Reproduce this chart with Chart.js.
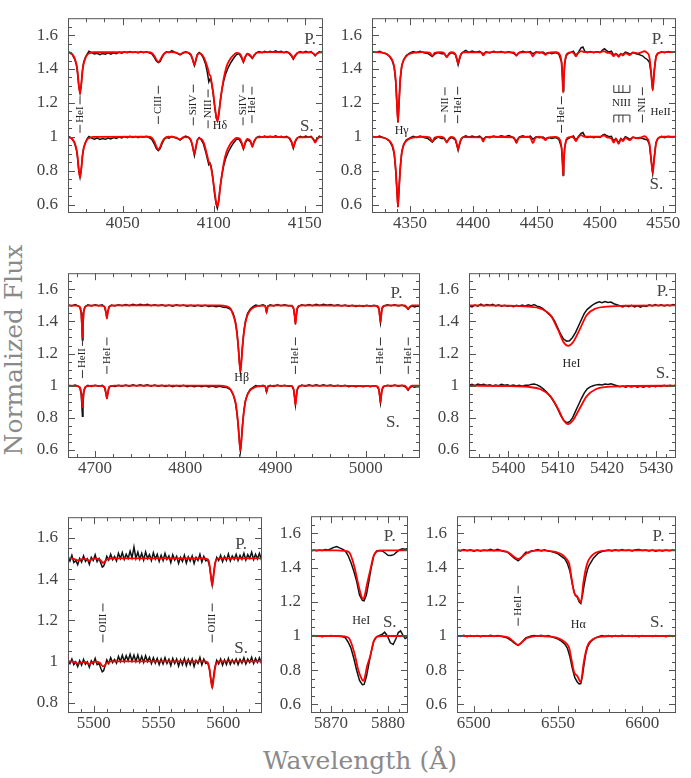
<!DOCTYPE html>
<html>
<head>
<meta charset="utf-8">
<script src="https://cdn.jsdelivr.net/npm/chart.js@4.4.1/dist/chart.umd.min.js"></script>
<style>
  body { margin: 0; background: #fff; width: 691px; height: 778px; position: relative; overflow: hidden; }
  canvas { position: absolute; }
  .ttl { position: absolute; font-family: "DejaVu Serif"; font-size: 25px; line-height: 29px; color: #8a8a8a; white-space: nowrap; }
  #ylab { left: 13px; top: 350px; transform: translate(-50%, -50%) rotate(-90deg); }
  #xlab { left: 360px; top: 760px; transform: translate(-50%, -50%); }
</style>
</head>
<body>
<div class="ttl" id="ylab">Normalized Flux</div>
<div class="ttl" id="xlab">Wavelength (Å)</div>
<script>
// tick labels
const yTicks = [0.6, 0.8, 1, 1.2, 1.4, 1.6];
const yTicksE = [0.8, 1, 1.2, 1.4, 1.6];
const xTicksA = [4050, 4100, 4150];
const xTicksB = [4350, 4400, 4450, 4500, 4550];
const xTicksC = [4700, 4800, 4900, 5000];
const xTicksD = [5400, 5410, 5420, 5430];
const xTicksE = [5500, 5550, 5600];
const xTicksF = [5870, 5880];
const xTicksG = [6500, 6550, 6600];

// spectra: [wavelength, flux, wavelength, flux, ...]  (P = primary, S = secondary)
// model = red, obs = black

// 4020-4160
const aModP = [4020,1.498, 4021.5,1.493, 4022.6,1.484, 4023.6,1.465, 4024.6,1.43, 4025.2,1.39, 4025.9,1.31, 4026.6,1.255, 4027.3,1.31, 4028,1.39, 4028.6,1.43, 4029.6,1.465, 4030.6,1.484, 4032,1.494, 4034,1.499, 4064,1.5, 4066,1.495, 4067.5,1.476, 4068.7,1.452, 4069.6,1.442, 4070.5,1.452, 4071.7,1.476, 4073,1.493, 4075,1.5, 4079,1.498, 4081.5,1.487, 4083.5,1.498, 4086,1.497, 4087.5,1.484, 4088.5,1.455, 4089.4,1.423, 4090.2,1.455, 4091,1.482, 4092,1.492, 4093,1.49, 4094.5,1.47, 4096.2,1.423, 4097.2,1.385, 4097.6,1.367, 4098.2,1.36, 4099,1.31, 4099.7,1.263, 4100.6,1.18, 4101.4,1.12, 4102,1.094, 4102.8,1.13, 4103.5,1.2, 4104.3,1.263, 4105.6,1.35, 4107,1.414, 4108.8,1.455, 4110.7,1.48, 4112.5,1.495, 4114.3,1.49, 4115.4,1.47, 4116.3,1.442, 4117.2,1.47, 4118.5,1.49, 4120.2,1.48, 4121.2,1.465, 4122.2,1.482, 4124,1.497, 4130,1.5, 4141,1.498, 4142.8,1.48, 4143.7,1.462, 4144.6,1.48, 4146.5,1.497, 4153.5,1.498, 4154.8,1.49, 4155.7,1.482, 4156.6,1.49, 4158,1.498, 4160,1.5];
const aModS = [4020,0.998, 4021.5,0.993, 4022.6,0.984, 4023.6,0.965, 4024.6,0.93, 4025.2,0.89, 4025.9,0.81, 4026.6,0.759, 4027.3,0.81, 4028,0.89, 4028.6,0.93, 4029.6,0.965, 4030.6,0.984, 4032,0.994, 4034,0.999, 4064,1.0, 4066,0.994, 4067.5,0.97, 4068.7,0.938, 4069.6,0.925, 4070.5,0.938, 4071.7,0.97, 4073,0.991, 4075,1.0, 4079,0.997, 4081.5,0.985, 4083.5,0.998, 4086,0.996, 4087.5,0.98, 4088.5,0.94, 4089.4,0.896, 4090.2,0.94, 4091,0.978, 4092,0.99, 4093,0.988, 4094.5,0.965, 4096.2,0.9, 4097.2,0.855, 4097.6,0.845, 4098.2,0.835, 4099,0.79, 4099.7,0.74, 4100.6,0.67, 4101.4,0.61, 4102,0.59, 4102.8,0.625, 4103.5,0.695, 4104.3,0.76, 4105.6,0.85, 4107,0.91, 4108.8,0.952, 4110.7,0.978, 4112.5,0.993, 4114.3,0.988, 4115.4,0.965, 4116.3,0.93, 4117.2,0.965, 4118.5,0.988, 4120.2,0.975, 4121.2,0.94, 4122.2,0.975, 4124,0.996, 4130,1.0, 4141,0.997, 4142.8,0.97, 4143.7,0.936, 4144.6,0.97, 4146.5,0.996, 4153.5,0.998, 4154.8,0.982, 4155.7,0.965, 4156.6,0.982, 4158,0.998, 4160,1.0];
const aObsP = [4020,1.503, 4021.5,1.495, 4022.5,1.482, 4023.6,1.46, 4024.6,1.425, 4025.2,1.38, 4025.9,1.3, 4026.6,1.26, 4027.3,1.31, 4028,1.4, 4028.6,1.44, 4029.6,1.47, 4030.6,1.49, 4031.5,1.505, 4033,1.497, 4034.5,1.489, 4036,1.493, 4037.5,1.485, 4039,1.492, 4040.5,1.487, 4042,1.495, 4043.5,1.488, 4045,1.496, 4046.5,1.49, 4048,1.499, 4049.5,1.494, 4051,1.502, 4052.5,1.496, 4054,1.503, 4055.5,1.497, 4057,1.501, 4058.5,1.495, 4060,1.503, 4061.5,1.497, 4063,1.502, 4064.5,1.496, 4066,1.49, 4067.3,1.47, 4068.5,1.448, 4069.6,1.438, 4070.6,1.445, 4071.7,1.47, 4072.8,1.49, 4074,1.502, 4075.5,1.497, 4077,1.508, 4078.5,1.499, 4080,1.492, 4081.5,1.484, 4083,1.493, 4084.5,1.502, 4086,1.497, 4087.5,1.482, 4088.6,1.45, 4089.4,1.42, 4090.2,1.45, 4091,1.486, 4092,1.497, 4093,1.49, 4094.3,1.465, 4095.5,1.43, 4096.5,1.38, 4097.3,1.325, 4097.9,1.34, 4098.6,1.33, 4099.5,1.27, 4100.5,1.18, 4101.4,1.11, 4102,1.094, 4102.7,1.13, 4103.5,1.2, 4104.5,1.28, 4105.5,1.33, 4106.5,1.37, 4108,1.41, 4109.5,1.44, 4111,1.465, 4112.5,1.485, 4114,1.49, 4115.3,1.465, 4116.3,1.44, 4117.3,1.47, 4118.5,1.49, 4120.2,1.475, 4121.2,1.462, 4122.2,1.48, 4123.5,1.497, 4125,1.503, 4126.5,1.497, 4128,1.505, 4129.5,1.498, 4131,1.505, 4132.5,1.499, 4134,1.507, 4135.5,1.5, 4137,1.505, 4138.5,1.497, 4140,1.503, 4141.5,1.492, 4142.8,1.475, 4143.7,1.458, 4144.7,1.477, 4146,1.495, 4147.5,1.503, 4149,1.497, 4150.5,1.505, 4152,1.498, 4153.5,1.503, 4154.8,1.49, 4155.7,1.478, 4156.6,1.49, 4158,1.503, 4159,1.497, 4160,1.505];
const aObsS = [4020,1.003, 4021.5,0.995, 4022.5,0.983, 4023.6,0.962, 4024.6,0.925, 4025.2,0.88, 4025.9,0.8, 4026.6,0.762, 4027.3,0.81, 4028,0.895, 4028.6,0.935, 4029.6,0.968, 4030.6,0.99, 4031.5,1.002, 4033,0.992, 4034.5,0.986, 4036,0.993, 4037.5,0.984, 4039,0.99, 4040.5,0.985, 4042,0.993, 4043.5,0.987, 4045,0.995, 4046.5,0.99, 4048,0.998, 4049.5,0.993, 4051,1.001, 4052.5,0.995, 4054,1.003, 4055.5,0.996, 4057,1.002, 4058.5,0.995, 4060,1.002, 4061.5,0.997, 4063,1.003, 4064.5,0.995, 4066,0.985, 4067.3,0.96, 4068.5,0.93, 4069.6,0.918, 4070.6,0.93, 4071.7,0.96, 4072.8,0.985, 4074,0.996, 4075.5,0.992, 4077,1.003, 4078.5,0.996, 4080,0.99, 4081.5,0.98, 4083,0.992, 4084.5,1.004, 4086,0.998, 4087.5,0.978, 4088.6,0.935, 4089.4,0.89, 4090.2,0.935, 4091,0.98, 4092,0.995, 4093,0.985, 4094.3,0.96, 4095.5,0.915, 4096.5,0.87, 4097.3,0.835, 4097.9,0.845, 4098.6,0.825, 4099.5,0.76, 4100.5,0.66, 4101.4,0.6, 4102,0.578, 4102.7,0.62, 4103.5,0.7, 4104.5,0.775, 4105.5,0.83, 4106.5,0.87, 4108,0.91, 4109.5,0.94, 4111,0.965, 4112.5,0.985, 4114,0.985, 4115.3,0.96, 4116.3,0.928, 4117.3,0.962, 4118.5,0.985, 4120.2,0.97, 4121.2,0.945, 4122.2,0.972, 4123.5,0.995, 4125,1.003, 4126.5,0.997, 4128,1.004, 4129.5,0.996, 4131,1.003, 4132.5,0.997, 4134,1.005, 4135.5,0.998, 4137,1.003, 4138.5,0.996, 4140,1.002, 4141.5,0.99, 4142.8,0.965, 4143.7,0.932, 4144.7,0.968, 4146,0.993, 4147.5,1.002, 4149,0.996, 4150.5,1.004, 4152,0.997, 4153.5,1.002, 4154.8,0.985, 4155.7,0.97, 4156.6,0.988, 4158,1.003, 4159,0.996, 4160,1.004];

// 4320-4560
const bModP = [4320,1.5, 4328,1.497, 4331,1.49, 4334,1.475, 4336,1.452, 4337.5,1.415, 4338.7,1.335, 4339.6,1.21, 4340.5,1.085, 4341.4,1.21, 4342.3,1.335, 4343.5,1.415, 4345,1.452, 4347,1.475, 4350,1.49, 4354,1.497, 4360,1.5, 4365.5,1.497, 4367.6,1.478, 4369.5,1.495, 4374,1.5, 4377,1.493, 4379,1.47, 4381,1.493, 4383,1.499, 4385.8,1.487, 4387.2,1.455, 4388,1.43, 4388.8,1.455, 4390.2,1.487, 4392,1.498, 4406,1.498, 4407.8,1.48, 4409.5,1.497, 4415,1.5, 4432,1.498, 4434,1.478, 4436,1.497, 4443,1.5, 4445.3,1.494, 4447,1.475, 4448.8,1.494, 4452,1.5, 4455.5,1.492, 4457,1.484, 4458.5,1.494, 4465,1.499, 4468.5,1.482, 4469.7,1.43, 4470.4,1.34, 4470.9,1.26, 4471.4,1.34, 4472.1,1.43, 4473.3,1.482, 4475.5,1.497, 4478,1.5, 4479.5,1.49, 4481,1.475, 4482.5,1.492, 4485,1.506, 4488,1.5, 4500,1.5, 4503,1.506, 4505.5,1.497, 4509,1.49, 4510.8,1.476, 4512.5,1.49, 4514.8,1.472, 4516.5,1.49, 4518.1,1.48, 4520,1.494, 4523.6,1.482, 4526,1.498, 4530,1.492, 4533,1.5, 4535,1.505, 4537,1.497, 4539,1.47, 4540.4,1.38, 4541.6,1.273, 4542.8,1.38, 4544.2,1.47, 4546.2,1.495, 4550,1.5, 4560,1.5];
const bModS = [4320,1.0, 4328,0.997, 4331,0.99, 4334,0.975, 4336,0.95, 4337.5,0.905, 4338.7,0.81, 4339.6,0.7, 4340.5,0.585, 4341.4,0.7, 4342.3,0.81, 4343.5,0.905, 4345,0.95, 4347,0.975, 4350,0.99, 4354,0.997, 4360,1.0, 4365.5,0.996, 4367.6,0.972, 4369.5,0.995, 4374,1.0, 4377,0.992, 4379,0.966, 4381,0.992, 4383,0.999, 4385.8,0.985, 4387.2,0.95, 4388,0.925, 4388.8,0.95, 4390.2,0.985, 4392,0.998, 4406,0.997, 4407.8,0.972, 4409.5,0.997, 4415,1.0, 4432,0.997, 4434,0.962, 4436,0.996, 4443,1.0, 4445.3,0.992, 4447,0.962, 4448.8,0.992, 4452,1.0, 4455.5,0.99, 4457,0.98, 4458.5,0.993, 4465,0.999, 4468.5,0.98, 4469.7,0.93, 4470.4,0.85, 4470.9,0.77, 4471.4,0.85, 4472.1,0.93, 4473.3,0.98, 4475.5,0.997, 4478,1.0, 4479.5,0.99, 4481,0.975, 4482.5,0.993, 4485,1.01, 4488,1.0, 4500,1.0, 4503,1.008, 4505.5,0.997, 4509,0.99, 4510.8,0.965, 4512.5,0.988, 4514.8,0.958, 4516.5,0.988, 4518.1,0.975, 4520,0.993, 4523.6,0.98, 4526,0.998, 4530,0.99, 4533,0.998, 4535,1.003, 4537,0.993, 4539,0.96, 4540.4,0.87, 4541.6,0.783, 4542.8,0.87, 4544.2,0.96, 4546.2,0.993, 4550,1.0, 4560,1.0];
const bObsP = [4320,1.503, 4323,1.497, 4326,1.505, 4329,1.494, 4331.5,1.49, 4334,1.472, 4336,1.448, 4337.5,1.41, 4338.7,1.33, 4339.6,1.2, 4340.5,1.085, 4341.4,1.21, 4342.3,1.34, 4343.5,1.42, 4345,1.455, 4347,1.48, 4350,1.495, 4352.5,1.503, 4355,1.497, 4358,1.504, 4361,1.496, 4364,1.492, 4366,1.482, 4367.6,1.474, 4369.5,1.488, 4372,1.497, 4375,1.49, 4377,1.49, 4379,1.472, 4381,1.488, 4383,1.497, 4385.8,1.485, 4387.2,1.45, 4388,1.425, 4388.8,1.45, 4390.2,1.485, 4392,1.5, 4394,1.51, 4396.5,1.498, 4399,1.506, 4402,1.499, 4405,1.505, 4407.8,1.49, 4410,1.502, 4413,1.495, 4416,1.504, 4419,1.497, 4422,1.503, 4425,1.496, 4428,1.502, 4431,1.495, 4434,1.482, 4436.5,1.498, 4439,1.504, 4442,1.497, 4445,1.503, 4447,1.49, 4449.5,1.502, 4452,1.495, 4455,1.5, 4457,1.49, 4459.5,1.497, 4462,1.491, 4465,1.497, 4467.5,1.488, 4469.7,1.44, 4470.4,1.35, 4470.9,1.27, 4471.4,1.34, 4472.1,1.43, 4473.3,1.478, 4475,1.492, 4477,1.498, 4479,1.505, 4481,1.48, 4483,1.5, 4485,1.525, 4486.5,1.53, 4488,1.505, 4490,1.497, 4492.5,1.503, 4495,1.496, 4497.5,1.502, 4500,1.497, 4502,1.512, 4503.5,1.52, 4505,1.51, 4507,1.5, 4509,1.505, 4510.8,1.482, 4512.5,1.49, 4514.8,1.478, 4516.5,1.49, 4518.1,1.485, 4520,1.5, 4522,1.495, 4523.6,1.488, 4526,1.497, 4528.5,1.49, 4531,1.485, 4533.5,1.478, 4535.5,1.465, 4537.5,1.455, 4539,1.44, 4540.4,1.37, 4541.6,1.28, 4542.8,1.39, 4544.2,1.475, 4546,1.493, 4548.5,1.502, 4551,1.496, 4554,1.503, 4557,1.497, 4560,1.502];
const bObsS = [4320,1.003, 4323,0.996, 4326,1.004, 4329,0.995, 4331.5,0.988, 4334,0.972, 4336,0.945, 4337.5,0.9, 4338.7,0.805, 4339.6,0.69, 4340.5,0.585, 4341.4,0.7, 4342.3,0.815, 4343.5,0.91, 4345,0.955, 4347,0.98, 4350,0.993, 4352.5,1.003, 4355,0.996, 4358,1.004, 4361,0.995, 4364,0.99, 4366,0.978, 4367.6,0.968, 4369.5,0.985, 4372,0.998, 4375,0.99, 4377,0.99, 4379,0.97, 4381,0.988, 4383,0.997, 4385.8,0.982, 4387.2,0.945, 4388,0.92, 4388.8,0.945, 4390.2,0.982, 4392,0.998, 4394,1.005, 4396.5,0.997, 4399,1.004, 4402,0.998, 4405,1.004, 4407.8,0.985, 4410,1.0, 4413,0.995, 4416,1.004, 4419,0.998, 4422,1.006, 4425,1.0, 4428,1.007, 4431,0.998, 4434,0.975, 4436.5,1.0, 4439,1.006, 4442,0.998, 4445,1.004, 4447,0.985, 4449.5,1.0, 4452,0.995, 4455,0.999, 4457,0.988, 4459.5,0.996, 4462,0.99, 4465,0.996, 4467.5,0.985, 4469.7,0.935, 4470.4,0.85, 4470.9,0.775, 4471.4,0.85, 4472.1,0.935, 4473.3,0.98, 4475,0.99, 4477,0.998, 4479,1.005, 4481,0.98, 4483,1.002, 4485,1.02, 4486.5,1.025, 4488,1.004, 4490,0.996, 4492.5,1.002, 4495,0.995, 4497.5,1.0, 4500,0.996, 4502,1.01, 4503.5,1.015, 4505,1.008, 4507,1.0, 4509,1.003, 4510.8,0.975, 4512.5,0.99, 4514.8,0.965, 4516.5,0.99, 4518.1,0.98, 4520,1.0, 4522,0.994, 4523.6,0.985, 4526,0.997, 4528.5,0.992, 4531,0.995, 4533.5,0.99, 4535.5,0.985, 4537.5,0.98, 4539,0.955, 4540.4,0.86, 4541.6,0.785, 4542.8,0.875, 4544.2,0.965, 4546,0.993, 4548.5,1.002, 4551,0.995, 4554,1.003, 4557,0.996, 4560,1.002];

// 4670-5060
const cModP = [4670,1.5, 4680,1.498, 4683,1.49, 4684.6,1.46, 4685.4,1.38, 4686,1.286, 4686.6,1.38, 4687.4,1.46, 4689,1.49, 4692,1.498, 4700,1.5, 4709,1.497, 4711,1.486, 4712.3,1.45, 4713.1,1.418, 4713.9,1.45, 4715.2,1.486, 4717,1.497, 4722,1.5, 4838,1.5, 4845,1.495, 4850,1.48, 4853,1.44, 4855.5,1.39, 4857.3,1.32, 4858.8,1.23, 4860,1.14, 4861,1.088, 4862,1.14, 4863.2,1.23, 4864.7,1.32, 4866.5,1.39, 4869,1.44, 4872,1.47, 4877,1.49, 4884,1.498, 4888.5,1.497, 4890,1.454, 4891.5,1.497, 4900,1.5, 4918,1.497, 4920,1.48, 4921.2,1.43, 4922,1.384, 4922.8,1.43, 4924,1.48, 4926,1.497, 4930,1.5, 5012,1.497, 5014.5,1.48, 5015.5,1.43, 5016.2,1.394, 5016.9,1.43, 5017.9,1.48, 5020,1.497, 5025,1.5, 5043,1.5, 5045,1.49, 5046.8,1.477, 5048.6,1.49, 5051,1.5, 5060,1.5];
const cModS = [4670,1.0, 4680,0.998, 4683,0.99, 4684.6,0.96, 4685.4,0.91, 4686,0.865, 4686.6,0.91, 4687.4,0.96, 4689,0.99, 4692,0.998, 4700,1.0, 4709,0.997, 4711,0.985, 4712.3,0.945, 4713.1,0.92, 4713.9,0.945, 4715.2,0.985, 4717,0.997, 4722,1.0, 4838,1.0, 4845,0.995, 4850,0.978, 4853,0.945, 4855.5,0.9, 4857.3,0.83, 4858.8,0.74, 4860,0.65, 4861,0.594, 4862,0.65, 4863.2,0.74, 4864.7,0.83, 4866.5,0.9, 4869,0.945, 4872,0.972, 4877,0.99, 4884,0.998, 4888.5,0.997, 4890,0.96, 4891.5,0.997, 4900,1.0, 4918,0.997, 4920,0.975, 4921.2,0.92, 4922,0.88, 4922.8,0.92, 4924,0.975, 4926,0.997, 4930,1.0, 5012,0.997, 5014.5,0.975, 5015.5,0.93, 5016.2,0.894, 5016.9,0.93, 5017.9,0.975, 5020,0.997, 5025,1.0, 5043,1.0, 5045,0.99, 5046.8,0.975, 5048.6,0.99, 5051,1.0, 5060,1.0];
const cObsP = [4670,1.503, 4674,1.496, 4678,1.505, 4681,1.497, 4683,1.49, 4684.6,1.455, 4685.4,1.37, 4686,1.285, 4686.6,1.37, 4687.4,1.46, 4689,1.492, 4692,1.503, 4696,1.496, 4700,1.504, 4704,1.497, 4708,1.503, 4710.5,1.49, 4712.3,1.448, 4713.1,1.42, 4713.9,1.45, 4715.5,1.49, 4718,1.502, 4722,1.496, 4726,1.504, 4730,1.497, 4734,1.505, 4738,1.498, 4742,1.506, 4746,1.499, 4750,1.507, 4754,1.5, 4758,1.506, 4762,1.498, 4766,1.504, 4770,1.497, 4774,1.503, 4778,1.496, 4782,1.502, 4786,1.495, 4790,1.503, 4794,1.497, 4798,1.502, 4802,1.495, 4806,1.5, 4810,1.494, 4814,1.501, 4818,1.494, 4822,1.5, 4826,1.493, 4830,1.498, 4834,1.491, 4838,1.496, 4842,1.488, 4846,1.486, 4850,1.476, 4853,1.45, 4855.5,1.4, 4857.3,1.33, 4858.8,1.235, 4860,1.14, 4861,1.088, 4862,1.145, 4863.2,1.24, 4864.7,1.33, 4866.5,1.4, 4869,1.45, 4872,1.478, 4875,1.492, 4878,1.502, 4882,1.496, 4886,1.504, 4888.5,1.497, 4890,1.46, 4891.5,1.495, 4894,1.503, 4898,1.496, 4902,1.505, 4906,1.498, 4910,1.504, 4914,1.497, 4918,1.499, 4920,1.478, 4921.2,1.43, 4922,1.385, 4922.8,1.43, 4924,1.48, 4926,1.496, 4929,1.504, 4933,1.497, 4937,1.505, 4941,1.498, 4945,1.506, 4949,1.499, 4953,1.507, 4957,1.5, 4961,1.505, 4965,1.497, 4969,1.503, 4973,1.496, 4977,1.502, 4981,1.494, 4985,1.5, 4989,1.493, 4993,1.499, 4997,1.493, 5001,1.5, 5005,1.494, 5009,1.5, 5012,1.496, 5014.5,1.478, 5015.5,1.43, 5016.2,1.395, 5016.9,1.43, 5017.9,1.48, 5020,1.496, 5024,1.503, 5028,1.497, 5032,1.504, 5036,1.496, 5040,1.502, 5043,1.495, 5045,1.488, 5046.8,1.475, 5048.6,1.488, 5051,1.497, 5054,1.49, 5057,1.496, 5060,1.492];
const cObsS = [4670,1.003, 4674,0.996, 4678,1.004, 4681,0.997, 4683,0.99, 4684.6,0.95, 4685.4,0.87, 4686,0.81, 4686.6,0.88, 4687.4,0.955, 4689,0.99, 4692,1.002, 4696,0.995, 4700,1.003, 4704,0.996, 4708,1.002, 4710.5,0.988, 4712.3,0.945, 4713.1,0.918, 4713.9,0.948, 4715.5,0.99, 4718,1.0, 4722,0.995, 4726,1.003, 4730,0.996, 4734,1.004, 4738,0.997, 4742,1.005, 4746,0.998, 4750,1.006, 4754,0.999, 4758,1.005, 4762,0.997, 4766,1.004, 4770,0.996, 4774,1.003, 4778,0.995, 4782,1.002, 4786,0.994, 4790,1.001, 4794,0.995, 4798,1.002, 4802,0.994, 4806,1.0, 4810,0.993, 4814,1.0, 4818,0.993, 4822,0.999, 4826,0.992, 4830,0.998, 4834,0.991, 4838,0.996, 4842,0.99, 4846,0.988, 4850,0.975, 4853,0.945, 4855.5,0.895, 4857.3,0.825, 4858.8,0.735, 4860,0.645, 4861,0.594, 4862,0.65, 4863.2,0.745, 4864.7,0.835, 4866.5,0.905, 4869,0.95, 4872,0.977, 4875,0.99, 4878,1.001, 4882,0.995, 4886,1.003, 4888.5,0.997, 4890,0.962, 4891.5,0.995, 4894,1.002, 4898,0.995, 4902,1.004, 4906,0.997, 4910,1.003, 4914,0.996, 4918,0.998, 4920,0.975, 4921.2,0.925, 4922,0.882, 4922.8,0.925, 4924,0.975, 4926,0.995, 4929,1.004, 4933,0.997, 4937,1.005, 4941,0.998, 4945,1.006, 4949,0.998, 4953,1.006, 4957,0.999, 4961,1.004, 4965,0.996, 4969,1.003, 4973,0.996, 4977,1.002, 4981,0.994, 4985,1.0, 4989,0.993, 4993,0.999, 4997,0.993, 5001,1.0, 5005,0.994, 5009,1.0, 5012,0.996, 5014.5,0.975, 5015.5,0.93, 5016.2,0.895, 5016.9,0.93, 5017.9,0.975, 5020,0.995, 5024,1.003, 5028,0.997, 5032,1.004, 5036,0.996, 5040,1.002, 5043,0.995, 5045,0.986, 5046.8,0.972, 5048.6,0.986, 5051,0.996, 5054,0.99, 5057,0.995, 5060,0.992];

// 5392-5434
const dModP = [5392,1.5, 5400,1.498, 5404,1.492, 5406.5,1.48, 5408.5,1.44, 5410.1,1.346, 5411.2,1.27, 5412.1,1.248, 5413.1,1.27, 5414.4,1.346, 5415.9,1.44, 5417.7,1.48, 5420,1.492, 5424,1.498, 5434,1.5];
const dModS = [5392,1.0, 5400,0.998, 5404,0.992, 5406.5,0.978, 5408.5,0.935, 5410.1,0.855, 5411.2,0.785, 5412.1,0.761, 5413.1,0.785, 5414.4,0.855, 5415.9,0.935, 5417.7,0.978, 5420,0.992, 5424,0.998, 5434,1.0];
const dObsP = [5392,1.498, 5392.6,1.49, 5393.2,1.502, 5393.8,1.495, 5394.4,1.508, 5395,1.497, 5395.6,1.505, 5396.2,1.5, 5396.8,1.507, 5397.4,1.496, 5398,1.503, 5398.6,1.495, 5399.2,1.5, 5399.8,1.494, 5400.4,1.498, 5401,1.492, 5401.6,1.5, 5402.2,1.494, 5402.8,1.502, 5403.4,1.495, 5404,1.503, 5404.6,1.497, 5405.2,1.505, 5405.8,1.495, 5406.4,1.49, 5407,1.48, 5407.6,1.462, 5408.2,1.445, 5408.8,1.43, 5409.4,1.4, 5410,1.36, 5410.6,1.32, 5411.2,1.29, 5411.8,1.277, 5412.4,1.28, 5413,1.3, 5413.6,1.33, 5414.2,1.37, 5414.8,1.41, 5415.4,1.45, 5416,1.475, 5416.6,1.49, 5417.2,1.505, 5417.8,1.515, 5418.4,1.522, 5419,1.516, 5419.6,1.524, 5420.2,1.518, 5420.8,1.52, 5421.4,1.51, 5422,1.504, 5422.6,1.497, 5423.2,1.49, 5423.8,1.498, 5424.4,1.492, 5425,1.5, 5425.6,1.49, 5426.2,1.497, 5426.8,1.488, 5427.4,1.498, 5428,1.493, 5428.6,1.503, 5429.2,1.496, 5429.8,1.505, 5430.4,1.497, 5431,1.503, 5431.6,1.496, 5432.2,1.502, 5432.8,1.498, 5433.4,1.505, 5434,1.5];
const dObsS = [5392,1.003, 5392.6,1.008, 5393.2,1.0, 5393.8,1.01, 5394.4,1.004, 5395,1.009, 5395.6,1.002, 5396.2,1.006, 5396.8,0.998, 5397.4,1.004, 5398,1.0, 5398.6,1.008, 5399.2,1.003, 5399.8,1.006, 5400.4,0.999, 5401,1.004, 5401.6,0.998, 5402.2,1.002, 5402.8,0.997, 5403.4,1.003, 5404,1.002, 5404.6,1.008, 5405.2,1.01, 5405.8,1.005, 5406.4,0.995, 5407,0.982, 5407.6,0.965, 5408.2,0.945, 5408.8,0.92, 5409.4,0.89, 5410,0.855, 5410.6,0.815, 5411.2,0.785, 5411.8,0.77, 5412.4,0.775, 5413,0.8, 5413.6,0.84, 5414.2,0.88, 5414.8,0.92, 5415.4,0.955, 5416,0.98, 5416.6,0.993, 5417.2,1.0, 5417.8,1.005, 5418.4,1.008, 5419,1.004, 5419.6,1.01, 5420.2,1.007, 5420.8,1.012, 5421.4,1.006, 5422,1.0, 5422.6,0.993, 5423.2,0.998, 5423.8,0.99, 5424.4,0.997, 5425,0.992, 5425.6,0.998, 5426.2,0.99, 5426.8,0.997, 5427.4,0.991, 5428,0.998, 5428.6,0.992, 5429.2,0.999, 5429.8,0.993, 5430.4,1.0, 5431,0.995, 5431.6,1.003, 5432.2,0.996, 5432.8,1.002, 5433.4,0.997, 5434,1.004];

// 5480-5630
const eModP = [5480,1.5, 5484,1.499, 5486,1.494, 5488,1.49, 5490,1.495, 5493,1.498, 5495,1.494, 5496.6,1.488, 5498.2,1.495, 5501,1.499, 5504.5,1.495, 5506,1.485, 5507.2,1.478, 5508.5,1.485, 5510.5,1.496, 5514,1.5, 5586,1.5, 5588.7,1.49, 5590.3,1.425, 5591.5,1.368, 5592.7,1.425, 5594.3,1.49, 5597,1.5, 5630,1.5];
const eModS = [5480,1.0, 5484,0.999, 5486,0.993, 5488,0.99, 5490,0.994, 5493,0.998, 5495,0.993, 5496.6,0.986, 5498.2,0.994, 5501,0.999, 5504.5,0.994, 5506,0.982, 5507.2,0.976, 5508.5,0.982, 5510.5,0.995, 5514,1.0, 5586,1.0, 5588.7,0.985, 5590.3,0.92, 5591.5,0.871, 5592.7,0.92, 5594.3,0.985, 5597,1.0, 5630,1.0];
const eObsP = [5480,1.508, 5481.5,1.488, 5483,1.515, 5484.5,1.48, 5486,1.49, 5487.5,1.47, 5489,1.5, 5490.5,1.482, 5492,1.512, 5493.5,1.485, 5495,1.498, 5496.5,1.472, 5498,1.505, 5499.5,1.49, 5501,1.518, 5502.5,1.484, 5504,1.5, 5505.5,1.475, 5506.5,1.458, 5507.5,1.462, 5508.5,1.478, 5510,1.51, 5511.5,1.492, 5513,1.52, 5514.5,1.494, 5516,1.51, 5517.5,1.488, 5519,1.525, 5520.5,1.5, 5522,1.528, 5523.5,1.495, 5525,1.52, 5526.5,1.5, 5528,1.535, 5529.5,1.503, 5531,1.555, 5532.5,1.5, 5534,1.53, 5535.5,1.496, 5537,1.525, 5538.5,1.492, 5540,1.532, 5541.5,1.5, 5543,1.518, 5544.5,1.49, 5546,1.527, 5547.5,1.497, 5549,1.52, 5550.5,1.486, 5552,1.515, 5553.5,1.49, 5555,1.524, 5556.5,1.495, 5558,1.512, 5559.5,1.48, 5561,1.518, 5562.5,1.492, 5564,1.51, 5565.5,1.476, 5567,1.505, 5568.5,1.485, 5570,1.515, 5571.5,1.478, 5573,1.508, 5574.5,1.487, 5576,1.512, 5577.5,1.475, 5579,1.505, 5580.5,1.49, 5582,1.52, 5583.5,1.482, 5585,1.51, 5586.5,1.488, 5588,1.495, 5589.5,1.462, 5590.5,1.41, 5591.5,1.372, 5592.5,1.42, 5593.5,1.47, 5595,1.505, 5596.5,1.49, 5598,1.515, 5599.5,1.484, 5601,1.51, 5602.5,1.49, 5604,1.522, 5605.5,1.488, 5607,1.512, 5608.5,1.495, 5610,1.52, 5611.5,1.49, 5613,1.515, 5614.5,1.496, 5616,1.525, 5617.5,1.492, 5619,1.518, 5620.5,1.5, 5622,1.53, 5623.5,1.495, 5625,1.52, 5626.5,1.498, 5628,1.525, 5629.5,1.495, 5630,1.51];
const eObsS = [5480,1.005, 5481.5,0.99, 5483,1.012, 5484.5,0.985, 5486,0.998, 5487.5,0.975, 5489,1.004, 5490.5,0.982, 5492,1.01, 5493.5,0.986, 5495,0.998, 5496.5,0.972, 5498,1.003, 5499.5,0.988, 5501,1.015, 5502.5,0.985, 5504,0.99, 5505.5,0.965, 5506.5,0.95, 5507.5,0.955, 5508.5,0.975, 5510,1.008, 5511.5,0.99, 5513,1.018, 5514.5,0.995, 5516,1.01, 5517.5,0.992, 5519,1.025, 5520.5,1.0, 5522,1.03, 5523.5,1.0, 5525,1.028, 5526.5,1.005, 5528,1.035, 5529.5,1.002, 5531,1.03, 5532.5,1.0, 5534,1.032, 5535.5,0.998, 5537,1.025, 5538.5,0.995, 5540,1.028, 5541.5,1.0, 5543,1.02, 5544.5,0.99, 5546,1.018, 5547.5,0.992, 5549,1.015, 5550.5,0.985, 5552,1.012, 5553.5,0.988, 5555,1.018, 5556.5,0.99, 5558,1.01, 5559.5,0.98, 5561,1.015, 5562.5,0.99, 5564,1.012, 5565.5,0.978, 5567,1.008, 5568.5,0.984, 5570,1.015, 5571.5,0.98, 5573,1.01, 5574.5,0.985, 5576,1.012, 5577.5,0.976, 5579,1.006, 5580.5,0.99, 5582,1.02, 5583.5,0.984, 5585,1.012, 5586.5,0.99, 5588,0.995, 5589.5,0.96, 5590.5,0.91, 5591.5,0.88, 5592.5,0.925, 5593.5,0.97, 5595,1.006, 5596.5,0.988, 5598,1.012, 5599.5,0.982, 5601,1.008, 5602.5,0.985, 5604,1.015, 5605.5,0.986, 5607,1.008, 5608.5,0.99, 5610,1.012, 5611.5,0.985, 5613,1.01, 5614.5,0.992, 5616,1.018, 5617.5,0.988, 5619,1.012, 5620.5,0.995, 5622,1.02, 5623.5,0.99, 5625,1.015, 5626.5,0.995, 5628,1.018, 5629.5,0.992, 5630,1.005];

// 5866-5884
const fModP = [5866,1.5, 5871,1.5, 5872.4,1.497, 5873.2,1.488, 5874.1,1.405, 5874.8,1.3, 5875.3,1.235, 5875.6,1.215, 5875.9,1.235, 5876.3,1.3, 5876.9,1.388, 5877.5,1.47, 5878.1,1.495, 5879,1.5, 5884,1.5];
const fModS = [5866,1.0, 5871,1.0, 5872.4,0.997, 5873.2,0.985, 5874.1,0.9, 5874.8,0.8, 5875.3,0.755, 5875.6,0.738, 5875.9,0.755, 5876.3,0.82, 5876.9,0.885, 5877.5,0.97, 5878.1,0.996, 5879,1.0, 5884,1.0];
const fObsP = [5866,1.5, 5866.5,1.497, 5867,1.502, 5867.5,1.498, 5868,1.503, 5868.5,1.5, 5869,1.505, 5869.5,1.503, 5870,1.51, 5870.5,1.518, 5871,1.522, 5871.5,1.515, 5872,1.508, 5872.5,1.498, 5873,1.47, 5873.5,1.43, 5874,1.38, 5874.5,1.32, 5875,1.24, 5875.5,1.208, 5875.8,1.205, 5876.2,1.24, 5876.6,1.31, 5877,1.39, 5877.5,1.47, 5878,1.497, 5878.5,1.5, 5879,1.497, 5879.5,1.485, 5880,1.472, 5880.5,1.47, 5881,1.475, 5881.5,1.49, 5882,1.503, 5882.5,1.51, 5883,1.507, 5883.5,1.512, 5884,1.505];
const fObsS = [5866,1.0, 5866.5,0.998, 5867,1.002, 5867.5,0.997, 5868,1.0, 5868.5,0.996, 5869,1.001, 5869.5,0.998, 5870,1.003, 5870.5,1.0, 5871,1.002, 5871.5,0.999, 5872,0.997, 5872.5,0.99, 5873,0.965, 5873.5,0.93, 5874,0.87, 5874.5,0.8, 5875,0.74, 5875.5,0.715, 5875.8,0.717, 5876.2,0.76, 5876.6,0.83, 5877,0.9, 5877.5,0.97, 5878,0.995, 5878.5,1.003, 5879,1.01, 5879.4,1.022, 5879.9,1.0, 5880.4,0.96, 5880.9,0.95, 5881.4,0.985, 5881.8,1.02, 5882.2,1.03, 5882.6,1.005, 5883,0.985, 5883.5,0.995, 5884,1.0];

// 6490-6620
const gModP = [6490,1.5, 6516,1.499, 6519,1.494, 6521,1.485, 6523.5,1.466, 6526.3,1.45, 6529,1.466, 6531.5,1.485, 6534,1.494, 6537,1.499, 6541,1.5, 6545,1.497, 6549,1.49, 6552.5,1.475, 6555,1.45, 6556.6,1.422, 6558,1.34, 6559.5,1.255, 6561.5,1.23, 6563.5,1.196, 6565,1.31, 6566.4,1.39, 6567.7,1.435, 6569.5,1.464, 6572,1.485, 6576,1.497, 6582,1.5, 6620,1.5];
const gModS = [6490,1.0, 6516,0.999, 6519,0.995, 6521,0.988, 6523.5,0.968, 6526.3,0.948, 6529,0.968, 6531.5,0.988, 6534,0.995, 6537,0.999, 6541,1.0, 6545,0.997, 6549,0.99, 6552.5,0.975, 6555,0.955, 6556.6,0.93, 6558,0.86, 6559.5,0.79, 6561.5,0.765, 6563.5,0.73, 6565,0.83, 6566.4,0.905, 6567.7,0.948, 6569.5,0.972, 6572,0.988, 6576,0.997, 6582,1.0, 6620,1.0];
const gObsP = [6490,1.503, 6492,1.497, 6494,1.505, 6496,1.498, 6498,1.504, 6500,1.496, 6502,1.502, 6504,1.497, 6506,1.503, 6508,1.5, 6510,1.507, 6512,1.499, 6514,1.506, 6516,1.5, 6518,1.494, 6520,1.49, 6522,1.472, 6524,1.455, 6526.3,1.44, 6528,1.455, 6529.5,1.475, 6531,1.49, 6532.5,1.485, 6534,1.497, 6536,1.5, 6538,1.505, 6540,1.497, 6542,1.503, 6544,1.496, 6546,1.493, 6548,1.488, 6550,1.48, 6552,1.465, 6554,1.45, 6555.5,1.425, 6557,1.38, 6558.5,1.3, 6560,1.24, 6561.5,1.225, 6562.5,1.2, 6563.5,1.19, 6564.5,1.24, 6565.5,1.3, 6566.5,1.35, 6567.5,1.39, 6568.5,1.415, 6569.5,1.43, 6571,1.455, 6572.5,1.47, 6574,1.485, 6576,1.493, 6578,1.498, 6580,1.503, 6582,1.497, 6584,1.504, 6586,1.498, 6588,1.505, 6590,1.499, 6592,1.503, 6594,1.497, 6596,1.504, 6598,1.506, 6600,1.5, 6602,1.503, 6604,1.497, 6606,1.502, 6608,1.496, 6610,1.501, 6612,1.497, 6614,1.503, 6616,1.498, 6618,1.502, 6620,1.5];
const gObsS = [6490,1.003, 6492,0.997, 6494,1.004, 6496,0.996, 6498,1.003, 6500,0.997, 6502,1.003, 6504,0.996, 6506,1.002, 6508,0.998, 6510,1.004, 6512,0.997, 6514,1.003, 6516,0.998, 6518,0.994, 6520,0.988, 6522,0.975, 6524,0.958, 6526.3,0.945, 6528,0.958, 6529.5,0.975, 6531,0.99, 6532.5,0.995, 6534,1.0, 6536,1.003, 6538,0.998, 6540,1.004, 6542,0.997, 6544,1.002, 6546,0.996, 6548,0.99, 6550,0.982, 6552,0.97, 6554,0.952, 6555.5,0.93, 6557,0.88, 6558.5,0.81, 6560,0.755, 6561.5,0.73, 6562.5,0.72, 6563.5,0.722, 6564.5,0.77, 6565.5,0.84, 6566.5,0.9, 6567.5,0.935, 6568.5,0.955, 6569.5,0.968, 6571,0.98, 6572.5,0.99, 6574,0.996, 6576,1.002, 6578,0.997, 6580,1.003, 6582,0.996, 6584,1.002, 6586,0.997, 6588,1.004, 6590,0.998, 6592,1.003, 6594,0.997, 6596,1.002, 6598,0.996, 6600,1.003, 6602,0.998, 6604,1.002, 6606,0.997, 6608,1.003, 6610,0.998, 6612,1.002, 6614,0.996, 6616,1.002, 6618,0.997, 6620,1.001];

// line identifications: r = rotated with dashes, t = plain text, s = segment
const labA = [['r',4026.6,1.131,'HeI'], ['r',4069.6,1.188,'CIII'], ['r',4088.8,1.188,'SiIV'], ['r',4096.9,1.165,'NIII'],
  ['r',4116.1,1.188,'SiIV'], ['r',4121.0,1.188,'HeI'], ['t',4103.4,1.063,'Hδ',12], ['t',4152.9,1.573,'P.',17], ['t',4151.2,1.058,'S.',17]];
const labB = [['r',4377.6,1.188,'NII'], ['r',4387.6,1.188,'HeI'], ['r',4469.6,1.131,'HeI'], ['r',4533.5,1.188,'NII'],
  ['t',4343.4,1.037,'Hγ',12], ['t',4516.9,1.198,'NIII',11], ['t',4547.9,1.148,'HeII',11], ['t',4545.6,1.573,'P.',17], ['t',4544.5,0.718,'S.',17],
  ['s',4510.9,1.262,4523.6,1.262], ['s',4510.9,1.262,4510.9,1.305], ['s',4514.9,1.262,4514.9,1.305], ['s',4518.1,1.262,4518.1,1.305], ['s',4523.6,1.262,4523.6,1.305],
  ['s',4510.9,1.128,4523.6,1.128], ['s',4510.9,1.128,4510.9,1.085], ['s',4514.9,1.128,4514.9,1.085], ['s',4518.1,1.128,4518.1,1.085], ['s',4523.6,1.128,4523.6,1.085]];
const labC = [['r',4686,1.172,'HeII'], ['r',4713.1,1.187,'HeI'], ['r',4922,1.187,'HeI'], ['r',5016.2,1.187,'HeI'], ['r',5047,1.187,'HeI'],
  ['t',4862.5,1.049,'Hβ',12], ['t',5034,1.572,'P.',17], ['t',5030,0.772,'S.',17]];
const labD = [['t',5412.8,1.139,'HeI',12], ['t',5431.3,1.585,'P.',17], ['t',5431.3,1.075,'S.',17]];
const labE = [['r',5507,1.187,'OIII'], ['r',5591.5,1.187,'OIII'], ['t',5613.8,1.567,'P.',17], ['t',5613.8,1.065,'S.',17]];
const labF = [['t',5875.3,1.088,'HeI',12], ['t',5880.3,1.582,'P.',17], ['t',5880.3,1.079,'S.',17]];
const labG = [['r',6526.3,1.177,'HeII'], ['t',6562,1.065,'Hα',12], ['t',6609.6,1.581,'P.',17], ['t',6608.7,1.078,'S.',17]];

const panels = [
  { box: [68, 8, 323, 213],   x: [4020, 4160],     y: [0.55, 1.7], xt: xTicksA, xm: 10, yt: yTicks,  mod: [aModP, aModS], obs: [aObsP, aObsS], lab: labA },
  { box: [372, 8, 676, 213],  x: [4320, 4560],     y: [0.55, 1.7], xt: xTicksB, xm: 10, yt: yTicks,  mod: [bModP, bModS], obs: [bObsP, bObsS], lab: labB },
  { box: [68, 263, 420, 458], x: [4670, 5060],     y: [0.55, 1.7], xt: xTicksC, xm: 20, yt: yTicks,  mod: [cModP, cModS], obs: [cObsP, cObsS], lab: labC },
  { box: [469, 263, 676, 458],x: [5392, 5434],     y: [0.55, 1.7], xt: xTicksD, xm: 2,  yt: yTicks,  mod: [dModP, dModS], obs: [dObsP, dObsS], lab: labD },
  { box: [68, 507, 262, 713], x: [5480, 5630],     y: [0.75, 1.7], xt: xTicksE, xm: 10, yt: yTicksE, mod: [eModP, eModS], obs: [eObsP, eObsS], lab: labE },
  { box: [311, 506, 408, 713],x: [5866.5, 5883.5], y: [0.55, 1.7], xt: xTicksF, xm: 2,  yt: yTicks,  mod: [fModP, fModS], obs: [fObsP, fObsS], lab: labF },
  { box: [457, 506, 676, 713],x: [6490, 6620],     y: [0.55, 1.7], xt: xTicksG, xm: 10, yt: yTicks,  mod: [gModP, gModS], obs: [gObsP, gObsS], lab: labG },
];

const xy = a => { const o = []; for (let i = 0; i < a.length; i += 2) o.push({ x: a[i], y: a[i + 1] }); return o; };
const near = (v, list) => list.some(t => Math.abs(t - v) < 1e-6);

Chart.defaults.font.family = '"Liberation Serif"';

function makePanel(p) {
  const [L, T, R, B] = p.box;
  const w = R - L + 76, h = B - T + 40;
  const cv = document.createElement('canvas');
  cv.width = w; cv.height = h;
  cv.style.left = (L - 62) + 'px'; cv.style.top = (T - 10) + 'px';
  cv.style.width = w + 'px'; cv.style.height = h + 'px';
  document.body.appendChild(cv);

  // frame with inward ticks + line labels
  const deco = {
    id: 'deco',
    afterDatasetsDraw(chart) {
      const { ctx, chartArea: a, scales: { x, y } } = chart;
      ctx.save();
      ctx.strokeStyle = '#555';
      ctx.lineWidth = 1;
      ctx.strokeRect(a.left + 0.5, a.top + 0.5, a.right - a.left - 1, a.bottom - a.top - 1);
      ctx.beginPath();
      for (let k = Math.ceil(p.x[0] / p.xm); k * p.xm < p.x[1]; k++) {
        const v = k * p.xm;
        if (v <= p.x[0]) continue;
        const len = near(v, p.xt) ? 7 : 4;
        const px = Math.round(x.getPixelForValue(v)) + 0.5;
        ctx.moveTo(px, a.bottom); ctx.lineTo(px, a.bottom - len);
        ctx.moveTo(px, a.top); ctx.lineTo(px, a.top + len);
      }
      for (let k = Math.ceil(p.y[0] / 0.05 - 1e-6); k * 0.05 < p.y[1] - 1e-6; k++) {
        const v = Math.round(k * 5) / 100;
        if (v <= p.y[0] + 1e-6) continue;
        const len = near(v, p.yt) ? 7 : 4;
        const py = Math.round(y.getPixelForValue(v)) + 0.5;
        ctx.moveTo(a.left, py); ctx.lineTo(a.left + len, py);
        ctx.moveTo(a.right, py); ctx.lineTo(a.right - len, py);
      }
      ctx.stroke();

      ctx.fillStyle = '#222';
      ctx.strokeStyle = '#333';
      ctx.textAlign = 'center';
      ctx.textBaseline = 'middle';
      for (const l of p.lab) {
        if (l[0] === 's') {
          ctx.beginPath();
          ctx.moveTo(x.getPixelForValue(l[1]), y.getPixelForValue(l[2]));
          ctx.lineTo(x.getPixelForValue(l[3]), y.getPixelForValue(l[4]));
          ctx.stroke();
          continue;
        }
        const px = x.getPixelForValue(l[1]), py = y.getPixelForValue(l[2]);
        if (l[0] === 't') {
          ctx.font = l[4] + 'px "Liberation Serif"';
          ctx.fillStyle = l[4] > 14 ? '#444' : '#222';
          ctx.fillText(l[3], px, py);
        } else {
          ctx.save();
          ctx.translate(px, py);
          ctx.rotate(-Math.PI / 2);
          ctx.font = '11px "Liberation Serif"';
          ctx.fillStyle = '#222';
          ctx.fillText(l[3], 0, 0);
          const hw = ctx.measureText(l[3]).width / 2;
          ctx.beginPath();
          ctx.moveTo(-hw - 2, 0); ctx.lineTo(-hw - 10, 0);
          ctx.moveTo(hw + 2, 0); ctx.lineTo(hw + 10, 0);
          ctx.stroke();
          ctx.restore();
        }
      }
      ctx.restore();
    }
  };

  const sets = [];
  p.mod.forEach(m => sets.push({ data: xy(m), borderColor: '#f00', borderWidth: 1.8, cubicInterpolationMode: 'monotone', order: 0 }));
  p.obs.forEach(o => sets.push({ data: xy(o), borderColor: '#111', borderWidth: 1.5, tension: 0, order: 1 }));

  new Chart(cv, {
    type: 'line',
    data: { datasets: sets },
    options: {
      responsive: false,
      animation: false,
      devicePixelRatio: 1,
      events: [],
      parsing: false,
      layout: { padding: { top: 10, right: 14, left: 0, bottom: 0 } },
      elements: { point: { radius: 0 } },
      plugins: { legend: { display: false }, tooltip: { enabled: false } },
      scales: {
        x: {
          type: 'linear', min: p.x[0], max: p.x[1],
          grid: { display: false, drawTicks: false }, border: { display: false },
          afterFit(s) { s.height = 30; },
          afterBuildTicks(s) { s.ticks = p.xt.map(v => ({ value: v })); },
          ticks: { color: '#444', font: { size: 17 }, padding: 0, maxRotation: 0, autoSkip: false, callback: v => String(v) }
        },
        y: {
          type: 'linear', min: p.y[0], max: p.y[1],
          grid: { display: false, drawTicks: false }, border: { display: false },
          afterFit(s) { s.width = 62; },
          afterBuildTicks(s) { s.ticks = p.yt.map(v => ({ value: v })); },
          ticks: { color: '#444', font: { size: 17 }, padding: 10, autoSkip: false, callback: v => String(v) }
        }
      }
    },
    plugins: [deco]
  });
}

panels.forEach(makePanel);
</script>
</body>
</html>
